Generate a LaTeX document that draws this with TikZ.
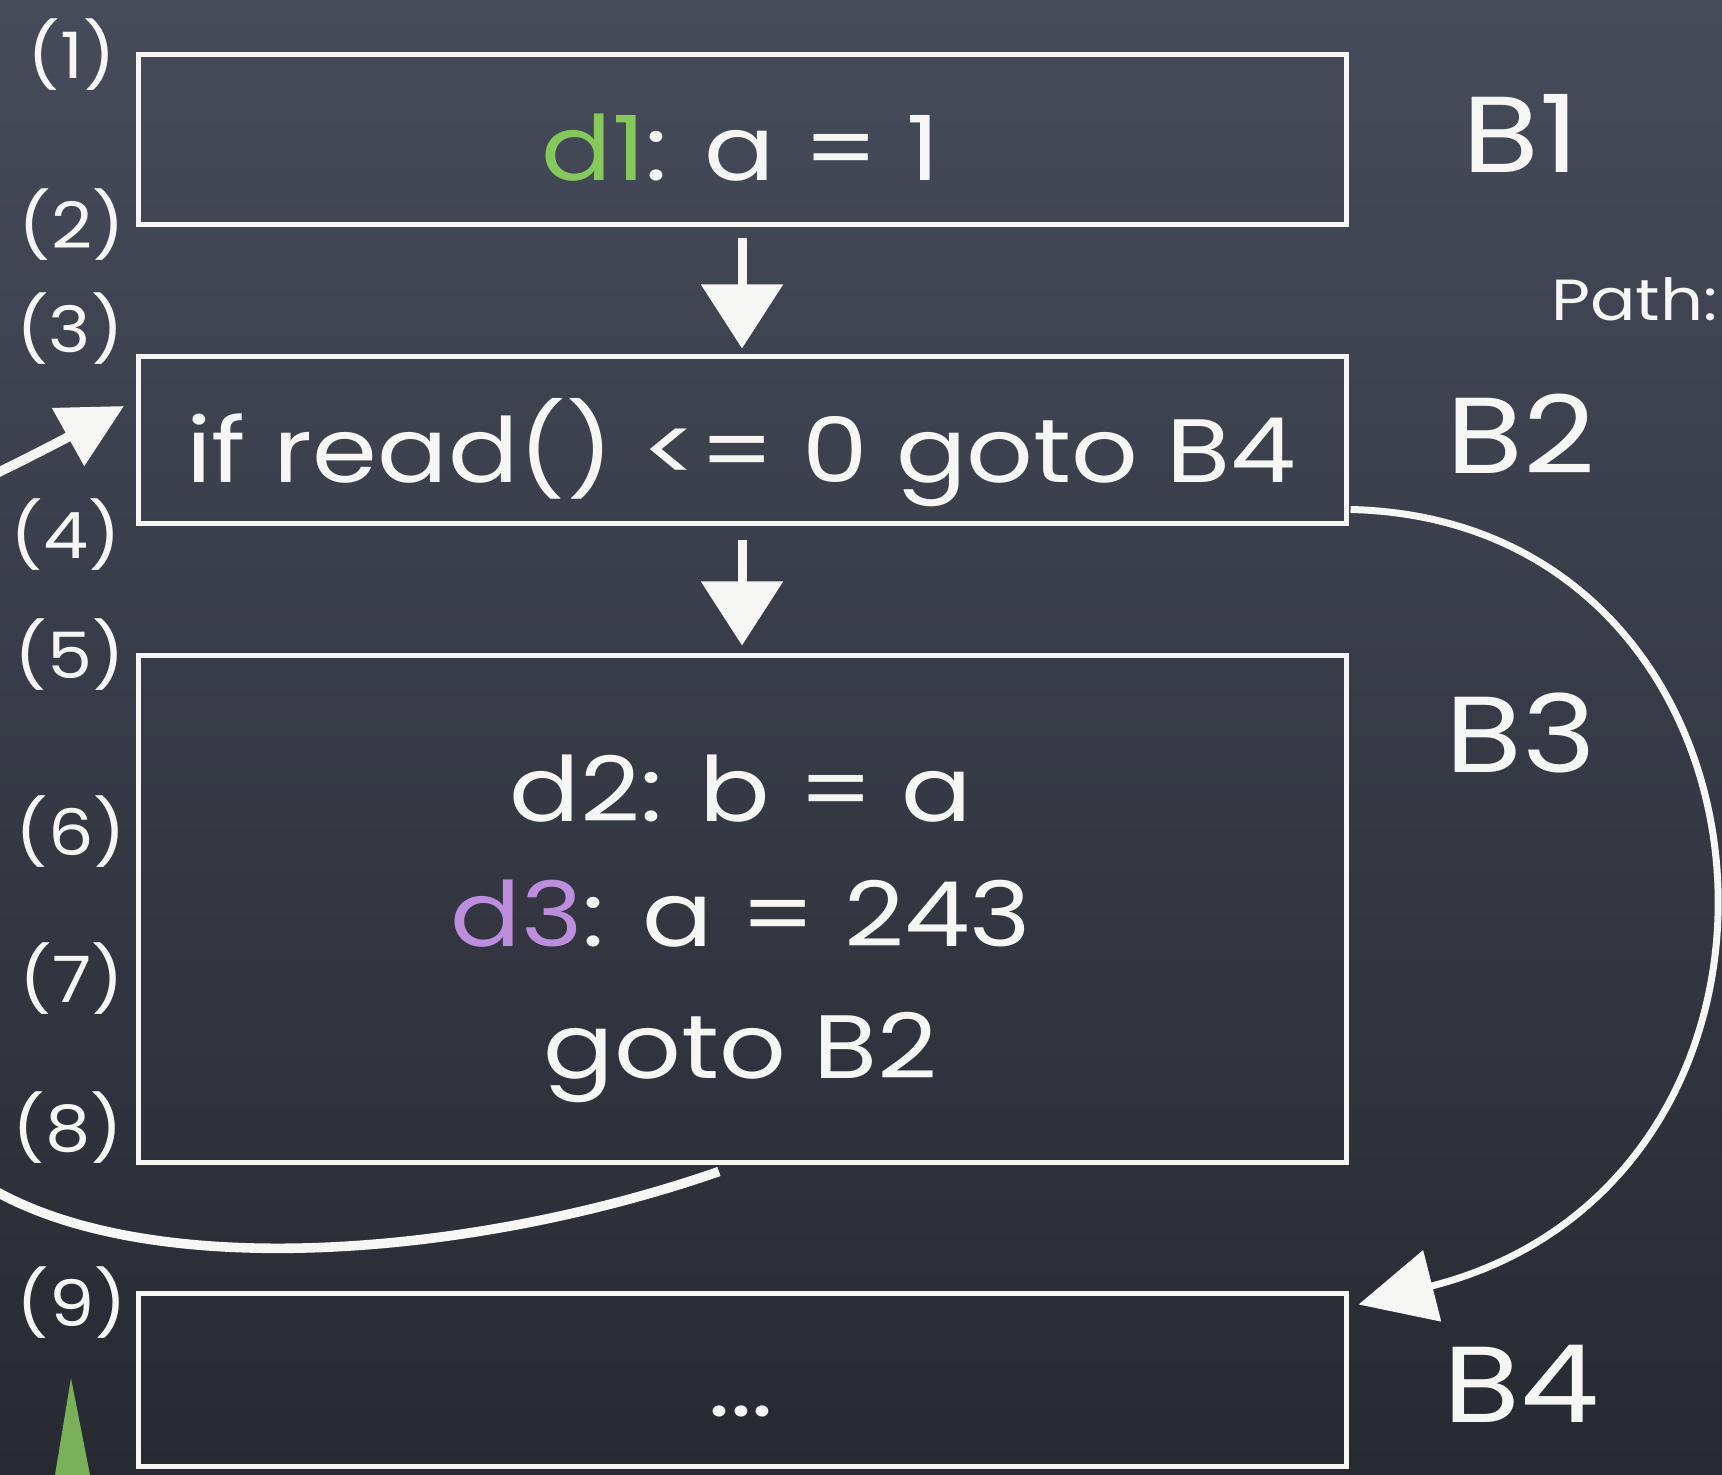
\documentclass[tikz,border=0pt]{standalone}
\usepackage{fontspec}
\newfontfamily\chalk[FakeStretch=1.16]{Poppins}
\newfontfamily\chalknum[FakeStretch=1.12]{Poppins}
\usetikzlibrary{arrows.meta}
\definecolor{chalkw}{RGB}{246,246,244}
\definecolor{dgreen}{RGB}{134,200,92}
\definecolor{dpurple}{RGB}{190,142,222}
\definecolor{tri}{RGB}{122,176,90}
\definecolor{bgtop}{RGB}{70,75,90}
\definecolor{bgbot}{RGB}{40,42,50}
\tikzset{
  chalkbox/.style={draw=chalkw, line width=2.5pt, inner sep=0pt, minimum width=604pt},
  code/.style={text=chalkw, font=\chalk\fontsize{45}{50}\selectfont, anchor=base, inner sep=0pt},
  blabel/.style={text=chalkw, font=\chalk\fontsize{54}{60}\selectfont, anchor=base, inner sep=0pt},
  linenum/.style={text=chalkw, font=\chalknum\fontsize{32}{36}\selectfont, inner sep=0pt},
  pathlbl/.style={text=chalkw, font=\chalk\fontsize{29}{32}\selectfont, inner sep=0pt},
  flow/.style={draw=chalkw, line width=4.5pt, -{Triangle[length=32pt,width=40pt]}},
  loopline/.style={draw=chalkw, line width=4.8pt, -{Triangle[length=32pt,width=32pt]}},
  arcline/.style={draw=chalkw, line width=3.5pt, -{Triangle[length=38pt,width=36pt]}}
}
\begin{document}
\begin{tikzpicture}[x=0.5pt,y=-0.5pt]
\useasboundingbox (0,0) rectangle (1722,1475);
\shade[top color=bgtop, bottom color=bgbot] (0,0) rectangle (1722,1475);
\clip (0,0) rectangle (1722,1475);

% blocks
\node[chalkbox, minimum height=85pt] (b1) at (742,140) {};
\node[chalkbox, minimum height=83.5pt] (b2) at (742,440.5) {};
\node[chalkbox, minimum height=253.5pt] (b3) at (742,908.5) {};
\node[chalkbox, minimum height=86.5pt] (b4) at (742,1379.5) {};

% code
\node[code] (t1) at (741,181) {\textcolor{dgreen}{d1}: a = 1};
\node[code] (t2) at (741,483) {if read() <= 0 goto B4};
\node[code] (t3) at (741,821) {d2: b = a};
\node[code] (t4) at (741,946) {\textcolor{dpurple}{d3}: a = 243};
\node[code] (t5) at (741,1078) {goto B2};
\node[code] (t6) at (741,1416) {...};

% block names
\node[blabel] (n1) at (1521,173) {B1};
\node[blabel] (n2) at (1521,474) {B2};
\node[blabel] (n3) at (1521,772) {B3};
\node[blabel] (n4) at (1521,1422) {B4};
\node[pathlbl, anchor=base east] (path) at (1718,321) {Path:};

% line numbers
\node[linenum] (l1) at (72,55) {(1)};
\node[linenum] (l2) at (72,225) {(2)};
\node[linenum] (l3) at (70,329) {(3)};
\node[linenum] (l4) at (66,535) {(4)};
\node[linenum] (l5) at (70,655) {(5)};
\node[linenum] (l6) at (71,832) {(6)};
\node[linenum] (l7) at (72,979) {(7)};
\node[linenum] (l8) at (68,1128) {(8)};
\node[linenum] (l9) at (72,1303) {(9)};

% edges
\draw[flow] ([yshift=-5.5pt]b1.south) -- ([yshift=3pt]b2.north);
\draw[flow] ([yshift=-7pt]b2.south) -- ([yshift=3.5pt]b3.north);
\coordinate (loopin) at (124,406);
\draw[loopline] ([xshift=-11.5pt,yshift=-3.5pt]b3.south)
  .. controls (450,1265) and (80,1290) .. (-60,1150)
  .. controls (-200,1010) and (-200,560) .. (-60,500)
  .. controls (10,468) and (70,436) .. (loopin);
\draw[arcline] ([xshift=1pt,yshift=8.5pt]b2.south east)
  .. controls (1800,520) and (1850,1180) .. ([xshift=5pt,yshift=-7pt]b4.north east);

% green marker
\fill[tri] (71,1378) -- (90,1475) -- (55,1475) -- cycle;
\end{tikzpicture}
\end{document}
